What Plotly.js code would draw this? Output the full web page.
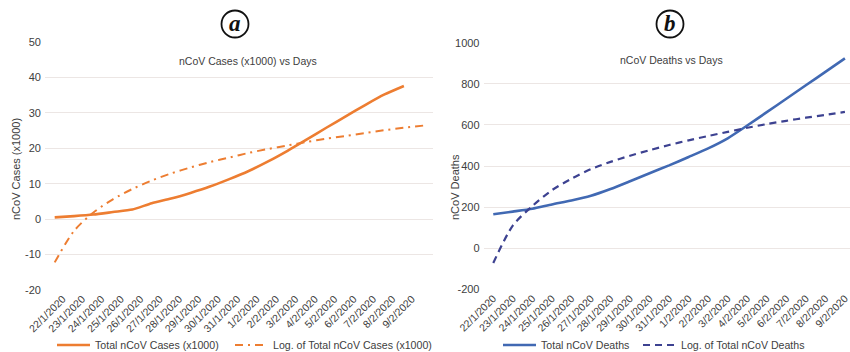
<!DOCTYPE html>
<html>
<head>
<meta charset="utf-8">
<script src="https://cdn.plot.ly/plotly-3.0.1.min.js"></script>
<style>html,body{margin:0;padding:0;background:#fff;}#chart{width:850px;height:352px;}</style>
</head>
<body>
<div id="chart"></div>
<script>
// ---- data ----
const dates = ['22/1/2020','23/1/2020','24/1/2020','25/1/2020','26/1/2020','27/1/2020','28/1/2020',
  '29/1/2020','30/1/2020','31/1/2020','1/2/2020','2/2/2020','3/2/2020','4/2/2020','5/2/2020',
  '6/2/2020','7/2/2020','8/2/2020','9/2/2020'];
const forecastDate = '10/2/2020';   // one period forward (trend line only, unlabeled)

const totalCases = [0.5, 0.85, 1.3, 2.0, 2.7, 4.5, 5.8, 7.4, 9.2, 11.3, 13.6, 16.3, 19.3, 22.5, 25.8, 29.0, 32.2, 35.2, 37.6];
const logCases = [-12.2, -3.3, 1.9, 5.6, 8.5, 10.9, 12.9, 14.6, 16.1, 17.4, 18.7, 19.8, 20.8, 21.8, 22.7, 23.5, 24.3, 25.1, 25.8, 26.4];

const totalDeaths = [165, 178, 192, 213, 232, 255, 288, 326, 365, 403, 444, 486, 535, 597, 662, 727, 793, 858, 924];
const logDeaths = [-72, 110, 205, 282, 338, 385, 420, 450, 477, 502, 525, 546, 566, 586, 604, 620, 635, 649, 663];

const yTicksA = [-20, -10, 0, 10, 20, 30, 40, 50];
const yLabelsA = ['-20', '-10', '0', '10', '20', '30', '40', '50'];
const yTicksB = [-200, 0, 200, 400, 600, 800, 1000];
const yLabelsB = ['-200', '0', '200', '400', '600', '800', '1000'];

const names = {
  a1: 'Total nCoV Cases (x1000)', a2: 'Log. of Total nCoV Cases (x1000)',
  b1: 'Total nCoV Deaths', b2: 'Log. of Total nCoV Deaths'
};
const titles = {a: 'nCoV Cases (x1000) vs Days', b: 'nCoV Deaths vs Days', ya: 'nCoV Cases (x1000)', yb: 'nCoV Deaths'};

// ---- styles ----
const W = 850, H = 352;
const px = v => v / W, py = v => 1 - v / H;
const ORANGE = '#ED7D31', BLUE = '#4169B3', NAVY = '#3D4291';
const GRID = '#ECE6E4', TXT = '#404040';
const FONT = 'Liberation Sans, Arial, sans-serif';

const datesA = dates.concat([forecastDate]);

const traces = [
  {x: dates, y: totalCases, name: names.a1, type: 'scatter', mode: 'lines', line: {color: ORANGE, width: 2.6, shape: 'spline', smoothing: 0.6}, xaxis: 'x', yaxis: 'y', legend: 'legend'},
  {x: datesA, y: logCases, name: names.a2, type: 'scatter', mode: 'lines', line: {color: ORANGE, width: 2, dash: '8px,5px,2px,5px', shape: 'spline', smoothing: 0.8}, xaxis: 'x', yaxis: 'y', legend: 'legend2'},
  {x: dates, y: totalDeaths, name: names.b1, type: 'scatter', mode: 'lines', line: {color: BLUE, width: 2.6, shape: 'spline', smoothing: 0.6}, xaxis: 'x2', yaxis: 'y2', legend: 'legend3'},
  {x: dates, y: logDeaths, name: names.b2, type: 'scatter', mode: 'lines', line: {color: NAVY, width: 2.2, dash: '7px,5px', shape: 'spline', smoothing: 0.8}, xaxis: 'x2', yaxis: 'y2', legend: 'legend4'}
];

const xCommon = {
  type: 'category', showgrid: false, zeroline: false, showline: false, ticks: '',
  tickangle: -45, tickfont: {family: FONT, size: 10.5, color: TXT}, tickvals: dates, ticktext: dates,
  ticklabelstandoff: 0, automargin: false, fixedrange: true
};
const yCommon = {
  showgrid: true, gridcolor: GRID, gridwidth: 1, zeroline: false, showline: false, ticks: '',
  tickfont: {family: FONT, size: 11, color: TXT}, automargin: false, ticklabelstandoff: 3, fixedrange: true
};
const legendAt = x => ({orientation: 'h', x: px(x), xanchor: 'left', y: py(345), yanchor: 'middle',
  font: {family: FONT, size: 10.6, color: TXT}, bgcolor: 'rgba(0,0,0,0)', itemwidth: 33, borderwidth: 0});

const layout = {
  width: W, height: H,
  margin: {l: 0, r: 0, t: 0, b: 0, autoexpand: false},
  paper_bgcolor: '#ffffff', plot_bgcolor: '#ffffff',
  font: {family: FONT, color: TXT},
  xaxis: Object.assign({}, xCommon, {domain: [px(45), px(433)], anchor: 'y', categoryarray: datesA, categoryorder: 'array', range: [-0.5, 19.5], ticklabelshift: 8}),
  yaxis: Object.assign({}, yCommon, {domain: [py(290), py(42)], anchor: 'x', range: [-20, 50], tickvals: yTicksA, ticktext: yLabelsA}),
  xaxis2: Object.assign({}, xCommon, {domain: [px(483.5), px(850)], anchor: 'y2', categoryarray: dates, categoryorder: 'array', range: [-0.5, 18.26], ticklabelshift: 0}),
  yaxis2: Object.assign({}, yCommon, {domain: [py(289.3), py(42.7)], anchor: 'x2', range: [-200, 1000], tickvals: yTicksB, ticktext: yLabelsB}),
  showlegend: true,
  legend: legendAt(52),
  legend2: legendAt(230),
  legend3: legendAt(498),
  legend4: legendAt(638),
  shapes: [
    {type: 'circle', xref: 'paper', yref: 'paper', x0: px(221.5), x1: px(248.5), y0: py(37.5), y1: py(10.5), line: {color: '#111', width: 1.8}},
    {type: 'circle', xref: 'paper', yref: 'paper', x0: px(656.5), x1: px(683.5), y0: py(37.5), y1: py(10.5), line: {color: '#111', width: 1.8}}
  ],
  annotations: [
    {text: '<b><i>a</i></b>', xref: 'paper', yref: 'paper', x: px(235), y: py(23.5), xanchor: 'center', yanchor: 'middle', showarrow: false, font: {family: 'Liberation Serif, DejaVu Serif, serif', size: 23, color: '#111'}},
    {text: '<b><i>b</i></b>', xref: 'paper', yref: 'paper', x: px(670), y: py(23.5), xanchor: 'center', yanchor: 'middle', showarrow: false, font: {family: 'Liberation Serif, DejaVu Serif, serif', size: 23, color: '#111'}},
    {text: titles.a, xref: 'paper', yref: 'paper', x: px(248), y: py(61), xanchor: 'center', yanchor: 'middle', showarrow: false, font: {family: FONT, size: 10.5, color: TXT}},
    {text: titles.b, xref: 'paper', yref: 'paper', x: px(671), y: py(60), xanchor: 'center', yanchor: 'middle', showarrow: false, font: {family: FONT, size: 10.5, color: TXT}},
    {text: titles.ya, xref: 'paper', yref: 'paper', x: px(16), y: py(169), xanchor: 'center', yanchor: 'middle', textangle: -90, showarrow: false, font: {family: FONT, size: 11, color: TXT}},
    {text: titles.yb, xref: 'paper', yref: 'paper', x: px(455), y: py(187), xanchor: 'center', yanchor: 'middle', textangle: -90, showarrow: false, font: {family: FONT, size: 11, color: TXT}}
  ]
};

Plotly.newPlot('chart', traces, layout, {staticPlot: true, displayModeBar: false});
</script>
</body>
</html>
